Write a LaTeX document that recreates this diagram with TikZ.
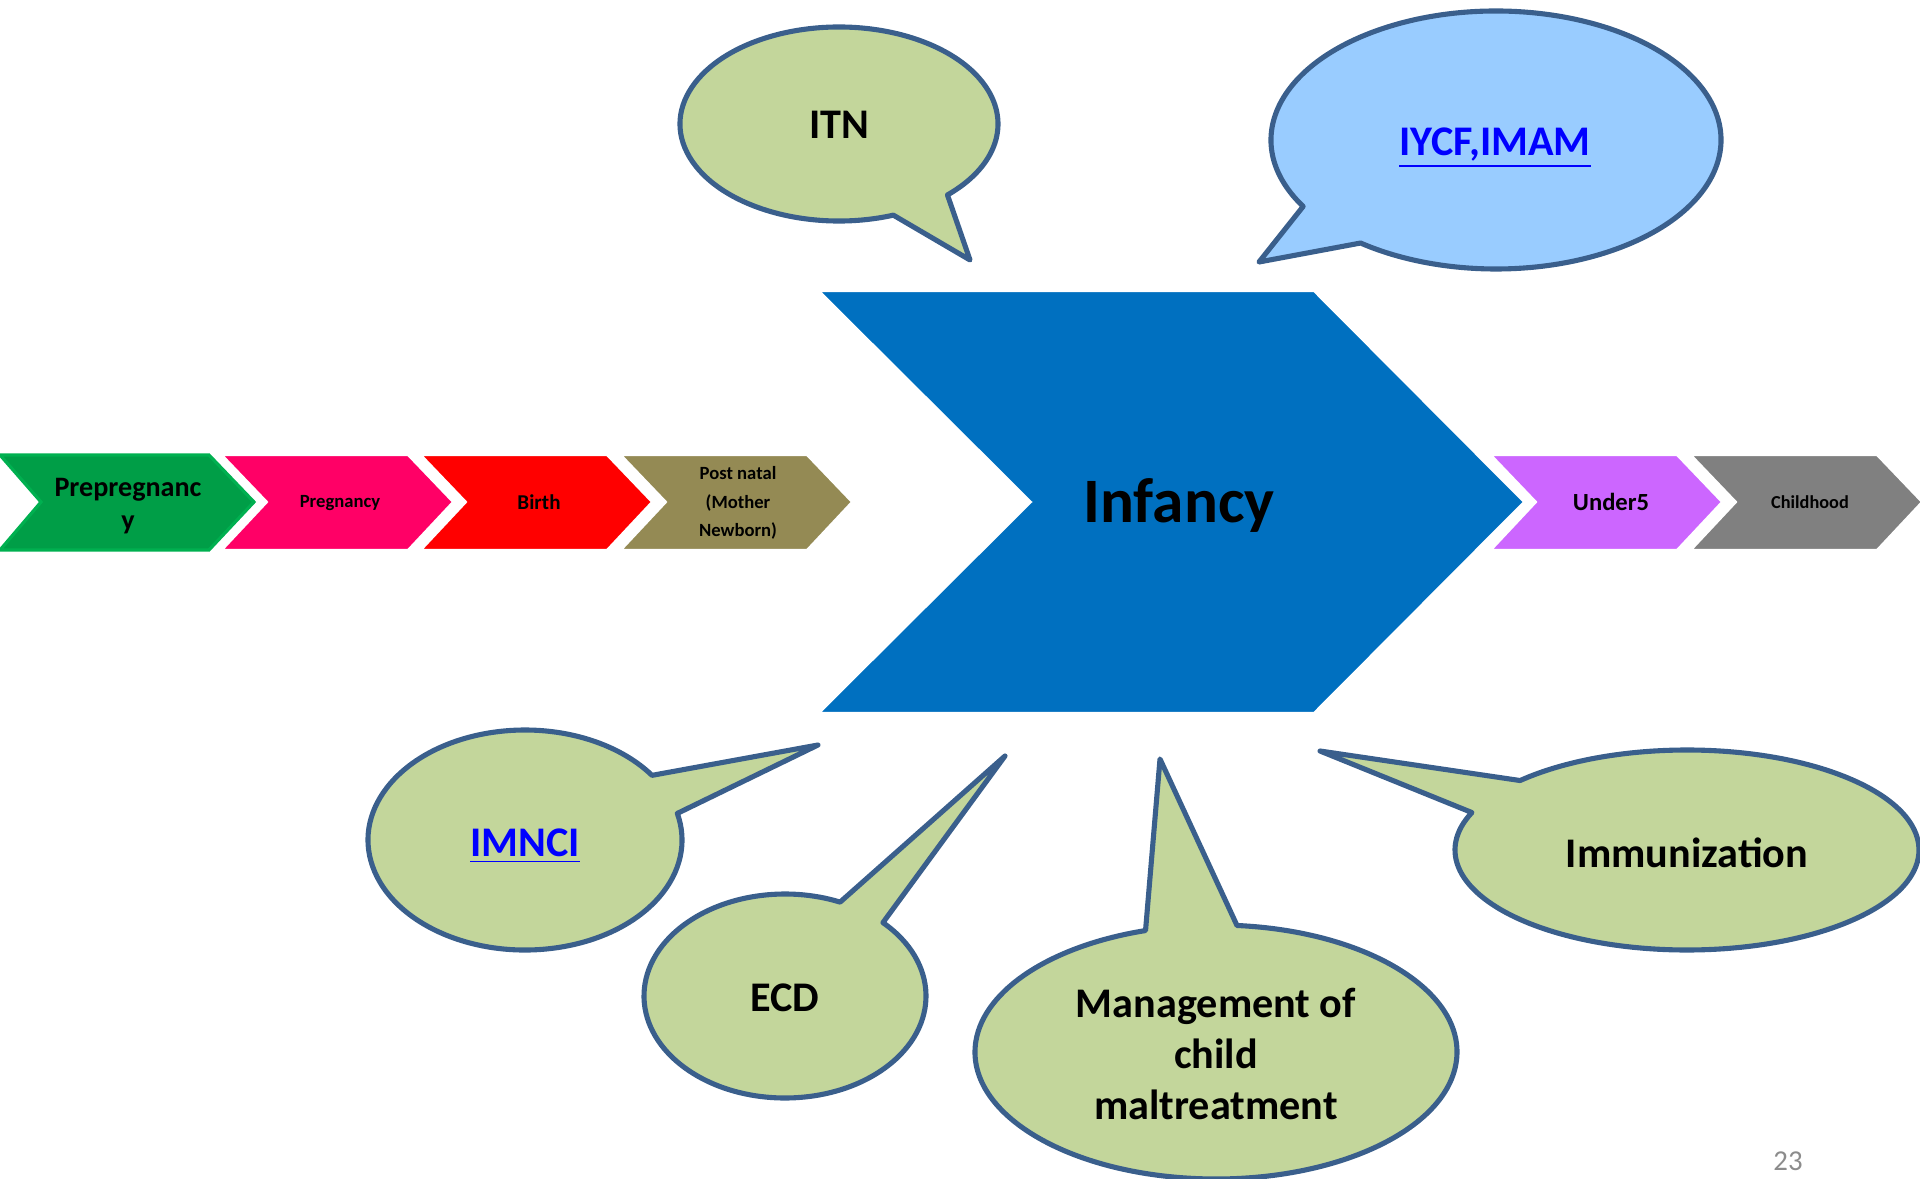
\documentclass[tikz,border=0pt]{standalone}
\usepackage{fontspec}
\setmainfont{Carlito}
\usetikzlibrary{positioning}

\definecolor{calloutfill}{HTML}{C3D69B}
\definecolor{calloutline}{HTML}{3A5F8C}
\definecolor{skyfill}{HTML}{99CCFF}
\definecolor{linkblue}{HTML}{0000FF}
\definecolor{infancyblue}{HTML}{0070C0}
\definecolor{prepgreen}{HTML}{009E47}
\definecolor{prepedge}{HTML}{00B050}
\definecolor{pregpink}{HTML}{FF0066}
\definecolor{birthred}{HTML}{FF0000}
\definecolor{postolive}{HTML}{948A54}
\definecolor{underpurple}{HTML}{CC66FF}
\definecolor{childgray}{HTML}{808080}
\definecolor{pagegray}{HTML}{8C8C8C}

\tikzset{
  callout/.style={fill=calloutfill, draw=calloutline, line width=1.45pt, line join=round},
  phase/.style={draw=white, line width=0.6pt},
  caption/.style={font=\bfseries, align=center, inner sep=0pt},
}

\begin{document}
\begin{tikzpicture}[x=0.01cm, y=-0.01cm]
  \useasboundingbox (0,0) rectangle (1920,1179);

  % small phase arrows
  \fill[prepgreen, draw=prepedge, line width=0.9pt]
    (0,455) -- (209,455) -- (254,502) -- (209,550) -- (0,550) -- (41,502) -- cycle;
  \foreach \x/\col in {222/pregpink, 421/birthred, 621/postolive,
                       1491/underpurple, 1691/childgray}
  {
    \fill[phase, fill=\col]
      (\x,455) -- ({\x+186},455) -- ({\x+231},502) -- ({\x+186},550)
      -- (\x,550) -- ({\x+45},502) -- cycle;
  }

  \node[caption, font=\bfseries\fontsize{8}{9.4}\selectfont] (prep) at (128,506) {Prepregnanc\\y};
  \node[caption, font=\bfseries\fontsize{5.3}{7}\selectfont] (preg) at (340,503) {Pregnancy};
  \node[caption, font=\bfseries\fontsize{6}{7}\selectfont] (birth) at (539,502) {Birth};
  \node[caption, font=\bfseries\fontsize{5.3}{8.2}\selectfont] (post) at (738,503) {Post natal\\(Mother\\Newborn)};
  \node[caption, font=\bfseries\fontsize{7}{8}\selectfont] (under) at (1611,502) {Under5};
  \node[caption, font=\bfseries\fontsize{5.2}{7}\selectfont] (child) at (1810,502) {Childhood};

  % big infancy arrow
  \fill[phase, fill=infancyblue]
    (819,291) -- (1314,291) -- (1524,502) -- (1314,713) -- (819,713) -- (1031,502) -- cycle;
  \node[caption, font=\bfseries\fontsize{18}{20}\selectfont] (infancy) at (1179,505) {Infancy};

  % callouts: ellipse arc round the long way, then the tail
  \draw[callout] (839,124) ++(70:159 and 97)
    arc[start angle=70, end angle=407, x radius=159, y radius=97]
    -- (970,260) -- cycle;
  \draw[callout, fill=skyfill] (1496,140) ++(149:225 and 129)
    arc[start angle=149, end angle=487, x radius=225, y radius=129]
    -- (1259,262) -- cycle;
  \draw[callout] (525,840) ++(-14:157 and 110)
    arc[start angle=-14, end angle=324, x radius=157, y radius=110]
    -- (818,745) -- cycle;
  \draw[callout] (785,996) ++(-46:141 and 102)
    arc[start angle=-46, end angle=293, x radius=141, y radius=102]
    -- (1005,756) -- cycle;
  \draw[callout] (1216,1052) ++(-85:241 and 127)
    arc[start angle=-85, end angle=253, x radius=241, y radius=127]
    -- (1160,759) -- cycle;
  \draw[callout] (1687,850) ++(-136:232 and 100)
    arc[start angle=-136, end angle=202, x radius=232, y radius=100]
    -- (1320,751) -- cycle;

  \node[caption, font=\bfseries\fontsize{12}{14.5}\selectfont] (itn) at (839,125) {ITN};
  \node[caption, font=\bfseries\fontsize{12}{14.5}\selectfont, text=linkblue] (iycf) at (1495,148) {\underline{IYCF,IMAM}};
  \node[caption, font=\bfseries\fontsize{12}{14.5}\selectfont, text=linkblue] (imnci) at (525,846) {\underline{IMNCI}};
  \node[caption, font=\bfseries\fontsize{12}{14.5}\selectfont] (ecd) at (785,998) {ECD};
  \node[caption, font=\bfseries\fontsize{12}{14.5}\selectfont] (maltreat) at (1216,1054) {Management of\\child\\maltreatment};
  \node[caption, font=\bfseries\fontsize{12}{14.5}\selectfont] (immun) at (1687,853) {Immunization};

  \node[inner sep=0pt, text=pagegray, font=\fontsize{8.2}{10}\selectfont] (page) at (1788,1161) {23};
\end{tikzpicture}
\end{document}
